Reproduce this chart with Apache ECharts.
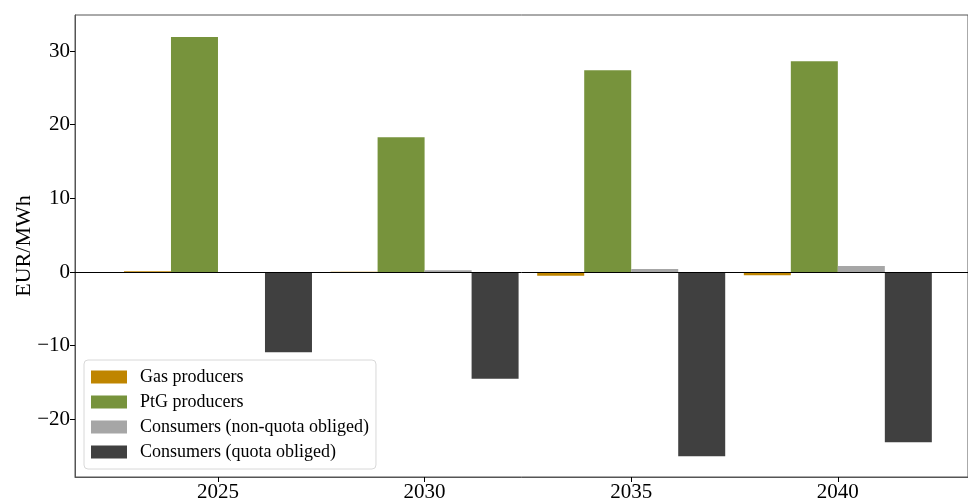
<!DOCTYPE html>
<html>
<head>
<meta charset="utf-8">
<script src="https://cdn.jsdelivr.net/npm/echarts@6/dist/echarts.min.js"></script>
<style>
  html, body { margin: 0; padding: 0; background: #fff; }
  #chart { width: 968px; height: 500px; }
</style>
</head>
<body>
<div id="chart"></div>
<script>
// Years on the horizontal axis
const years = [2025, 2030, 2035, 2040];
const yTicks = [-20, -10, 0, 10, 20, 30];

// Welfare change by actor group, EUR/MWh
const gasProducers = [0.1, 0.05, -0.5, -0.45];
const ptgProducers = [31.9, 18.3, 27.4, 28.6];
const consumersNonQuota = [-0.12, 0.25, 0.4, 0.8];
const consumersQuota = [-10.9, -14.5, -25.0, -23.1];

const seriesNames = [
  'Gas producers',
  'PtG producers',
  'Consumers (non-quota obliged)',
  'Consumers (quota obliged)'
];
const seriesColors = ['#BF8500', '#77933C', '#A6A6A6', '#404040'];
const seriesValues = [gasProducers, ptgProducers, consumersNonQuota, consumersQuota];

const font = 'Liberation Serif, Times New Roman, serif';
const minus = v => String(v).replace('-', '\u2212');

const series = seriesValues.map((vals, i) => ({
  name: seriesNames[i],
  type: 'bar',
  barWidth: 47,
  barGap: '0%',
  itemStyle: { color: seriesColors[i] },
  data: years.map((y, j) => [y, vals[j]]),
  markLine: i === 0 ? {
    silent: true,
    symbol: 'none',
    label: { show: false },
    lineStyle: { color: '#000', width: 1, type: 'solid' },
    data: [{ yAxis: 0 }]
  } : undefined
}));

const chart = echarts.init(document.getElementById('chart'));
chart.setOption({
  animation: false,
  textStyle: { fontFamily: font },
  grid: {
    left: 75, top: 15, right: 0, bottom: 23,
    outerBoundsMode: 'none',
    show: true, borderColor: '#555', borderWidth: 1, containLabel: false
  },
  legend: {
    orient: 'vertical',
    left: 84, top: 360,
    data: seriesNames,
    icon: 'rect',
    itemWidth: 36, itemHeight: 13, itemGap: 7,
    padding: [8, 7, 8, 7],
    borderColor: '#d8d8d8', borderWidth: 1, borderRadius: 4,
    backgroundColor: 'rgba(255,255,255,0.8)',
    textStyle: {
      fontFamily: font, fontSize: 18, lineHeight: 18, color: '#000',
      padding: [0, 0, 0, 8]
    }
  },
  xAxis: {
    type: 'value',
    min: 2021.54, max: 2043.15,
    splitLine: { show: false },
    axisLine: { onZero: false, lineStyle: { color: '#555' } },
    axisTick: { length: 5, lineStyle: { color: '#000' }, customValues: years },
    axisLabel: {
      customValues: years, fontSize: 21, color: '#000', margin: 5,
      fontFamily: font, formatter: v => String(v)
    }
  },
  yAxis: {
    type: 'value',
    min: -27.83, max: 34.89,
    name: 'EUR/MWh',
    nameLocation: 'middle',
    nameRotate: 90,
    nameGap: 40,
    nameMoveOverlap: false,
    nameTextStyle: { fontSize: 22, color: '#000', fontFamily: font },
    splitLine: { show: false },
    axisLine: { show: true, lineStyle: { color: '#555' } },
    axisTick: { show: true, length: 5, lineStyle: { color: '#000' }, customValues: yTicks },
    axisLabel: {
      customValues: yTicks, fontSize: 21, color: '#000', margin: 5,
      fontFamily: font, formatter: minus
    }
  },
  series: series
});
</script>
</body>
</html>
